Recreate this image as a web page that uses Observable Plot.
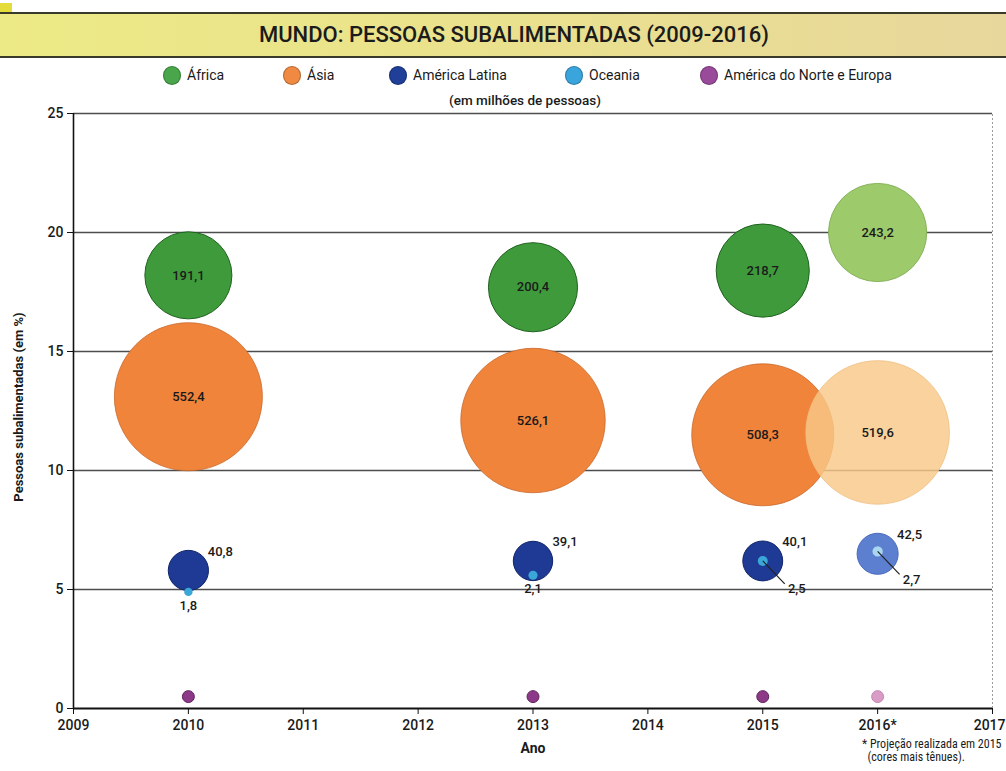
<!DOCTYPE html>
<html>
<head>
<meta charset="utf-8">
<script src="https://cdn.jsdelivr.net/npm/d3@7"></script>
<script src="https://cdn.jsdelivr.net/npm/@observablehq/plot@0.6"></script>
<style>
  html, body { margin: 0; padding: 0; background: #fff; }
  #page { position: relative; width: 1006px; height: 771px; overflow: hidden;
          font-family: Roboto, "Liberation Sans", sans-serif; color: #1a1a1a; }
  #header { position: relative; height: 105px; }
  #tab { position: absolute; left: 0; top: 3px; width: 12px; height: 10px; background: #e4dc3a; }
  #banner { position: absolute; left: 0; top: 12px; width: 1006px; height: 42px;
            background: linear-gradient(to right, #ecea86 0%, #eae28c 45%, #e7d79c 100%);
            border-top: 2px solid #3a3a2a; border-bottom: 2px solid #3a3a2a;
            text-align: center; line-height: 42px; font-size: 22px; font-weight: 500; color: #1b1b1b; }
  #banner span { position: relative; left: 11px; }
  .leg { position: absolute; top: 65px; height: 20px; display: flex; align-items: center; font-size: 14px; white-space: nowrap; }
  .leg .sw { width: 18px; height: 19px; border-radius: 50%; margin-right: 6px; box-shadow: inset 0 0 0 1px rgba(0,0,0,0.25); }
  #sub { position: absolute; top: 92px; left: 0; width: 1050px; text-align: center; font-size: 13.5px; font-weight: 500; }
  #foot { position: absolute; left: 862px; top: 738px; font-family: "Roboto Condensed", Roboto, sans-serif;
          font-size: 12px; line-height: 13px; white-space: nowrap; }
  #chart { position: absolute; left: 0; top: 105px; }
</style>
</head>
<body>
<div id="page">
  <div id="header">
    <div id="tab"></div>
    <div id="banner"><span>MUNDO: PESSOAS SUBALIMENTADAS (2009-2016)</span></div>
    <div id="legend"></div>
    <div id="sub">(em milhões de pessoas)</div>
  </div>
  <div id="chart"></div>
  <div id="foot">* Projeção realizada em 2015<br>&nbsp;&nbsp;(cores mais tênues).</div>
</div>
<script>
// ---- Data ----
const years = [2010, 2013, 2015, 2016];
const projectedYear = 2016;

const africaPct = [18.2, 17.7, 18.4, 20.0];
const africaMil = [191.1, 200.4, 218.7, 243.2];

const asiaPct = [13.1, 12.1, 11.5, 11.6];
const asiaMil = [552.4, 526.1, 508.3, 519.6];

const latamPct = [5.8, 6.2, 6.2, 6.5];
const latamMil = [40.8, 39.1, 40.1, 42.5];

const oceaniaPct = [4.9, 5.6, 6.2, 6.6];
const oceaniaMil = [1.8, 2.1, 2.5, 2.7];

const naEurPct = [0.5, 0.5, 0.5, 0.5];
const naEurMilEst = [3.6, 3.6, 3.6, 3.6]; // unlabeled

const xTicks = [2009, 2010, 2011, 2012, 2013, 2014, 2015, 2016, 2017];
const lastTick = 2017;
const yTicks = [0, 5, 10, 15, 20, 25];
const gridY = [5, 10, 15, 20, 25];

const regionNames = ["África", "Ásia", "América Latina", "Oceania", "América do Norte e Europa"];

// ---- Styles ----
const colors = {
  africa: ["#3f9a3b", "#9dcb6c"],
  asia: ["#f0843a", "#f8c888"],
  latam: ["#1e3a94", "#5d7fd0"],
  oceania: ["#3aa7d8", "#a9d7f0"],
  naEur: ["#8c3a88", "#d99cc7"]
};
const strokes = {
  africa: ["#1f621f", "#86b35a"],
  asia: ["#c9682c", "#efbf84"],
  latam: ["#0f2468", "#4a6abc"],
  oceania: ["#2a8fbf", "#8cc3e2"],
  naEur: ["#5e1f5b", "#c186b0"]
};
const legendColors = ["#4aa64a", "#f08a42", "#1f3f98", "#3aa5dc", "#9a4a9a"];
const legendLeft = [163, 283, 389, 565, 700];

// ---- Build tables ----
function rows(key, pcts, mils) {
  return years.map((year, i) => ({ year, pct: pcts[i], mil: mils[i], key, proj: year === projectedYear }));
}
const africa = rows("africa", africaPct, africaMil);
const asia = rows("asia", asiaPct, asiaMil);
const latam = rows("latam", latamPct, latamMil);
const oceania = rows("oceania", oceaniaPct, oceaniaMil);
const naEur = rows("naEur", naEurPct, naEurMilEst);

const fmt = v => v.toFixed(1).replace(".", ",");
const fillOf = d => colors[d.key][d.proj ? 1 : 0];
const strokeOf = d => strokes[d.key][d.proj ? 1 : 0];

// ---- Legend ----
const legend = document.getElementById("legend");
regionNames.forEach((name, i) => {
  const item = document.createElement("div");
  item.className = "leg";
  item.style.left = legendLeft[i] + "px";
  item.innerHTML = `<span class="sw" style="background:${legendColors[i]}"></span><span>${name}</span>`;
  legend.appendChild(item);
});

// ---- Chart ----
const font = 'Roboto, "Liberation Sans", sans-serif';
const dotOpts = { x: "year", y: "pct", r: "mil", fill: fillOf, stroke: strokeOf, strokeWidth: 1, sort: null };
const labelStyle = { fontSize: 13, fontWeight: 500, fill: "#1a1a1a" };

const chart = Plot.plot({
  width: 1006,
  height: 666,
  marginTop: 8,
  marginBottom: 63,
  marginLeft: 73,
  marginRight: 14,
  x: { domain: [2009, 2017] },
  y: { domain: [0, 25] },
  r: { domain: [0, 552.4], range: [0, 74] },
  style: { fontFamily: font, fontSize: "14px", color: "#1a1a1a", background: "transparent" },
  marks: [
    Plot.ruleY(gridY, { stroke: "#4d4d4d", strokeWidth: 1.3 }),
    Plot.ruleX([2017], { y1: 0, y2: 25, stroke: "#9a9a9a", strokeWidth: 1, strokeDasharray: "2,2" }),
    Plot.ruleX([2009], { y1: 0, y2: 25, stroke: "#111", strokeWidth: 1.6 }),
    Plot.ruleY([0], { stroke: "#111", strokeWidth: 2.2 }),
    Plot.axisX({ ticks: xTicks, tickFormat: d => d === lastTick ? "" : d === projectedYear ? d + "*" : String(d),
                 tickSize: 6, tickPadding: 6, fontWeight: 500, fontSize: 14, label: null, stroke: "#111" }),
    Plot.text([lastTick], { x: d => d, frameAnchor: "bottom", lineAnchor: "top", textAnchor: "end", dx: 13, dy: 12,
                            text: d => String(d), fontWeight: 500, fontSize: 14 }),
    Plot.axisY({ ticks: yTicks, tickSize: 6, tickPadding: 4, fontWeight: 500, fontSize: 14, label: null, stroke: "#111" }),
    Plot.text(["Ano"], { frameAnchor: "bottom", dy: 44, fontWeight: "bold", fontSize: 14 }),
    Plot.text(["Pessoas subalimentadas (em %)"], { frameAnchor: "left", textAnchor: "middle", rotate: -90, dx: -55, dy: -4, fontWeight: "bold", fontSize: 13 }),

    Plot.dot(africa, dotOpts),
    Plot.dot(asia, { ...dotOpts, fillOpacity: d => d.proj ? 0.82 : 1, strokeWidth: 0.8 }),
    Plot.dot(latam, dotOpts),
    Plot.dot(oceania, { ...dotOpts, stroke: null }),
    Plot.dot(naEur, dotOpts),

    Plot.text(africa, { x: "year", y: "pct", text: d => fmt(d.mil), ...labelStyle }),
    Plot.text(asia, { x: "year", y: "pct", text: d => fmt(d.mil), ...labelStyle }),
    Plot.text(latam, { x: "year", y: "pct", text: d => fmt(d.mil), dx: 32, dy: -19, ...labelStyle }),
    Plot.text(oceania, { filter: d => d.year < 2015, x: "year", y: "pct", text: d => fmt(d.mil), dy: 14, ...labelStyle }),
    Plot.link(oceania, { filter: d => d.year >= 2015, x1: "year", y1: "pct",
                          x2: d => d.year + 22 / 115, y2: d => d.pct - 23 / 23.8, stroke: "#222", strokeWidth: 1.2 }),
    Plot.text(oceania, { filter: d => d.year >= 2015, x: "year", y: "pct", text: d => fmt(d.mil), dx: 34, dy: 28, ...labelStyle })
  ]
});
document.getElementById("chart").appendChild(chart);
</script>
</body>
</html>
